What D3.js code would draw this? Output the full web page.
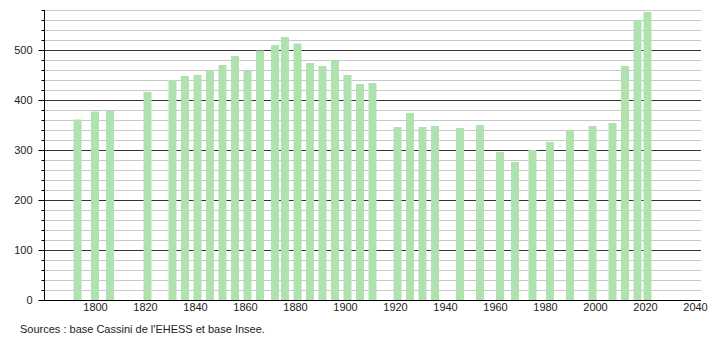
<!DOCTYPE html>
<html>
<head>
<meta charset="utf-8">
<script src="https://cdn.jsdelivr.net/npm/d3@7/dist/d3.min.js"></script>
<style>
  html, body { margin: 0; padding: 0; background: #fff; }
  svg { display: block; font-family: "Liberation Sans", Arial, sans-serif; }
</style>
</head>
<body>
<div class="chart"></div>
<script>
// census years and population
var years = [1793, 1800, 1806, 1821, 1831, 1836, 1841, 1846, 1851, 1856,
  1861, 1866, 1872, 1876, 1881, 1886, 1891, 1896, 1901, 1906, 1911,
  1921, 1926, 1931, 1936, 1946, 1954, 1962, 1968, 1975, 1982, 1990,
  1999, 2007, 2012, 2017, 2021];
var population = [361, 377, 379, 416, 440, 448, 450, 460, 470, 488,
  458, 499, 510, 526, 513, 474, 468, 480, 450, 432, 434,
  346, 374, 346, 348, 344, 350, 296, 276, 300, 316, 340,
  348, 354, 468, 560, 576];
var xTicks = [1800, 1820, 1840, 1860, 1880, 1900, 1920, 1940, 1960, 1980, 2000, 2020, 2040];
var sourceText = "Sources : base Cassini de l'EHESS et base Insee.";

draw();

function draw() {
  var width = 710, height = 340;
  var plotLeft = 44, plotRight = 701, plotTop = 10, plotBottom = 300;

  var data = years.map(function (y, i) {
    return { year: y, value: population[i] };
  });

  var svg = d3.select('.chart')
    .append('svg')
    .attr('width', width)
    .attr('height', height);

  var x = d3.scaleLinear()
    .domain([1779.6, 2042.4])
    .range([plotLeft, plotRight]);

  var y = d3.scaleLinear()
    .domain([0, 580])
    .range([plotBottom, plotTop]);

  var gridValues = d3.range(20, 581, 20);

  // grid lines, dark every 100
  svg.append('g')
    .selectAll('line')
    .data(gridValues)
    .enter()
    .append('line')
    .attr('x1', plotLeft)
    .attr('x2', plotRight)
    .attr('y1', function (d) { return Math.round(y(d)) + 0.5; })
    .attr('y2', function (d) { return Math.round(y(d)) + 0.5; })
    .attr('stroke', function (d) { return d % 100 === 0 ? '#333' : '#c8c8c8'; })
    .attr('stroke-width', 1);

  // bars
  var barW = 8;
  svg.append('g')
    .selectAll('rect')
    .data(data)
    .enter()
    .append('rect')
    .attr('x', function (d) { return x(d.year) - barW / 2; })
    .attr('y', function (d) { return y(d.value); })
    .attr('width', barW)
    .attr('height', function (d) { return y(0) - y(d.value); })
    .attr('fill', '#b0e2b0');

  // y axis
  var yAxis = d3.axisLeft(y)
    .tickValues(d3.range(0, 581, 20))
    .tickSize(2)
    .tickFormat(function (d) { return d % 100 === 0 ? d : ''; });

  var yg = svg.append('g')
    .attr('transform', 'translate(' + (plotLeft + 0.5) + ',0)')
    .call(yAxis);
  yg.select('.domain').attr('d', 'M0,' + plotTop + 'V' + plotBottom).attr('stroke', '#000');
  yg.selectAll('.tick line')
    .attr('stroke', '#000')
    .attr('x2', function (d) { return d % 100 === 0 ? -6 : -3; });
  yg.selectAll('.tick text')
    .attr('x', -12)
    .attr('font-size', 11)
    .attr('fill', '#222');

  // x axis
  var xAxis = d3.axisBottom(x)
    .tickValues(xTicks)
    .tickSize(0)
    .tickPadding(3)
    .tickFormat(d3.format('d'));

  var xg = svg.append('g')
    .attr('transform', 'translate(0,' + (plotBottom + 0.5) + ')')
    .call(xAxis);
  xg.select('.domain').attr('d', 'M' + plotLeft + ',0H' + plotRight).attr('stroke', '#000');
  xg.selectAll('.tick text')
    .attr('font-size', 11)
    .attr('fill', '#222');

  svg.append('text')
    .attr('x', 20)
    .attr('y', 333)
    .attr('font-size', 11)
    .attr('fill', '#222')
    .text(sourceText);
}
</script>
</body>
</html>
